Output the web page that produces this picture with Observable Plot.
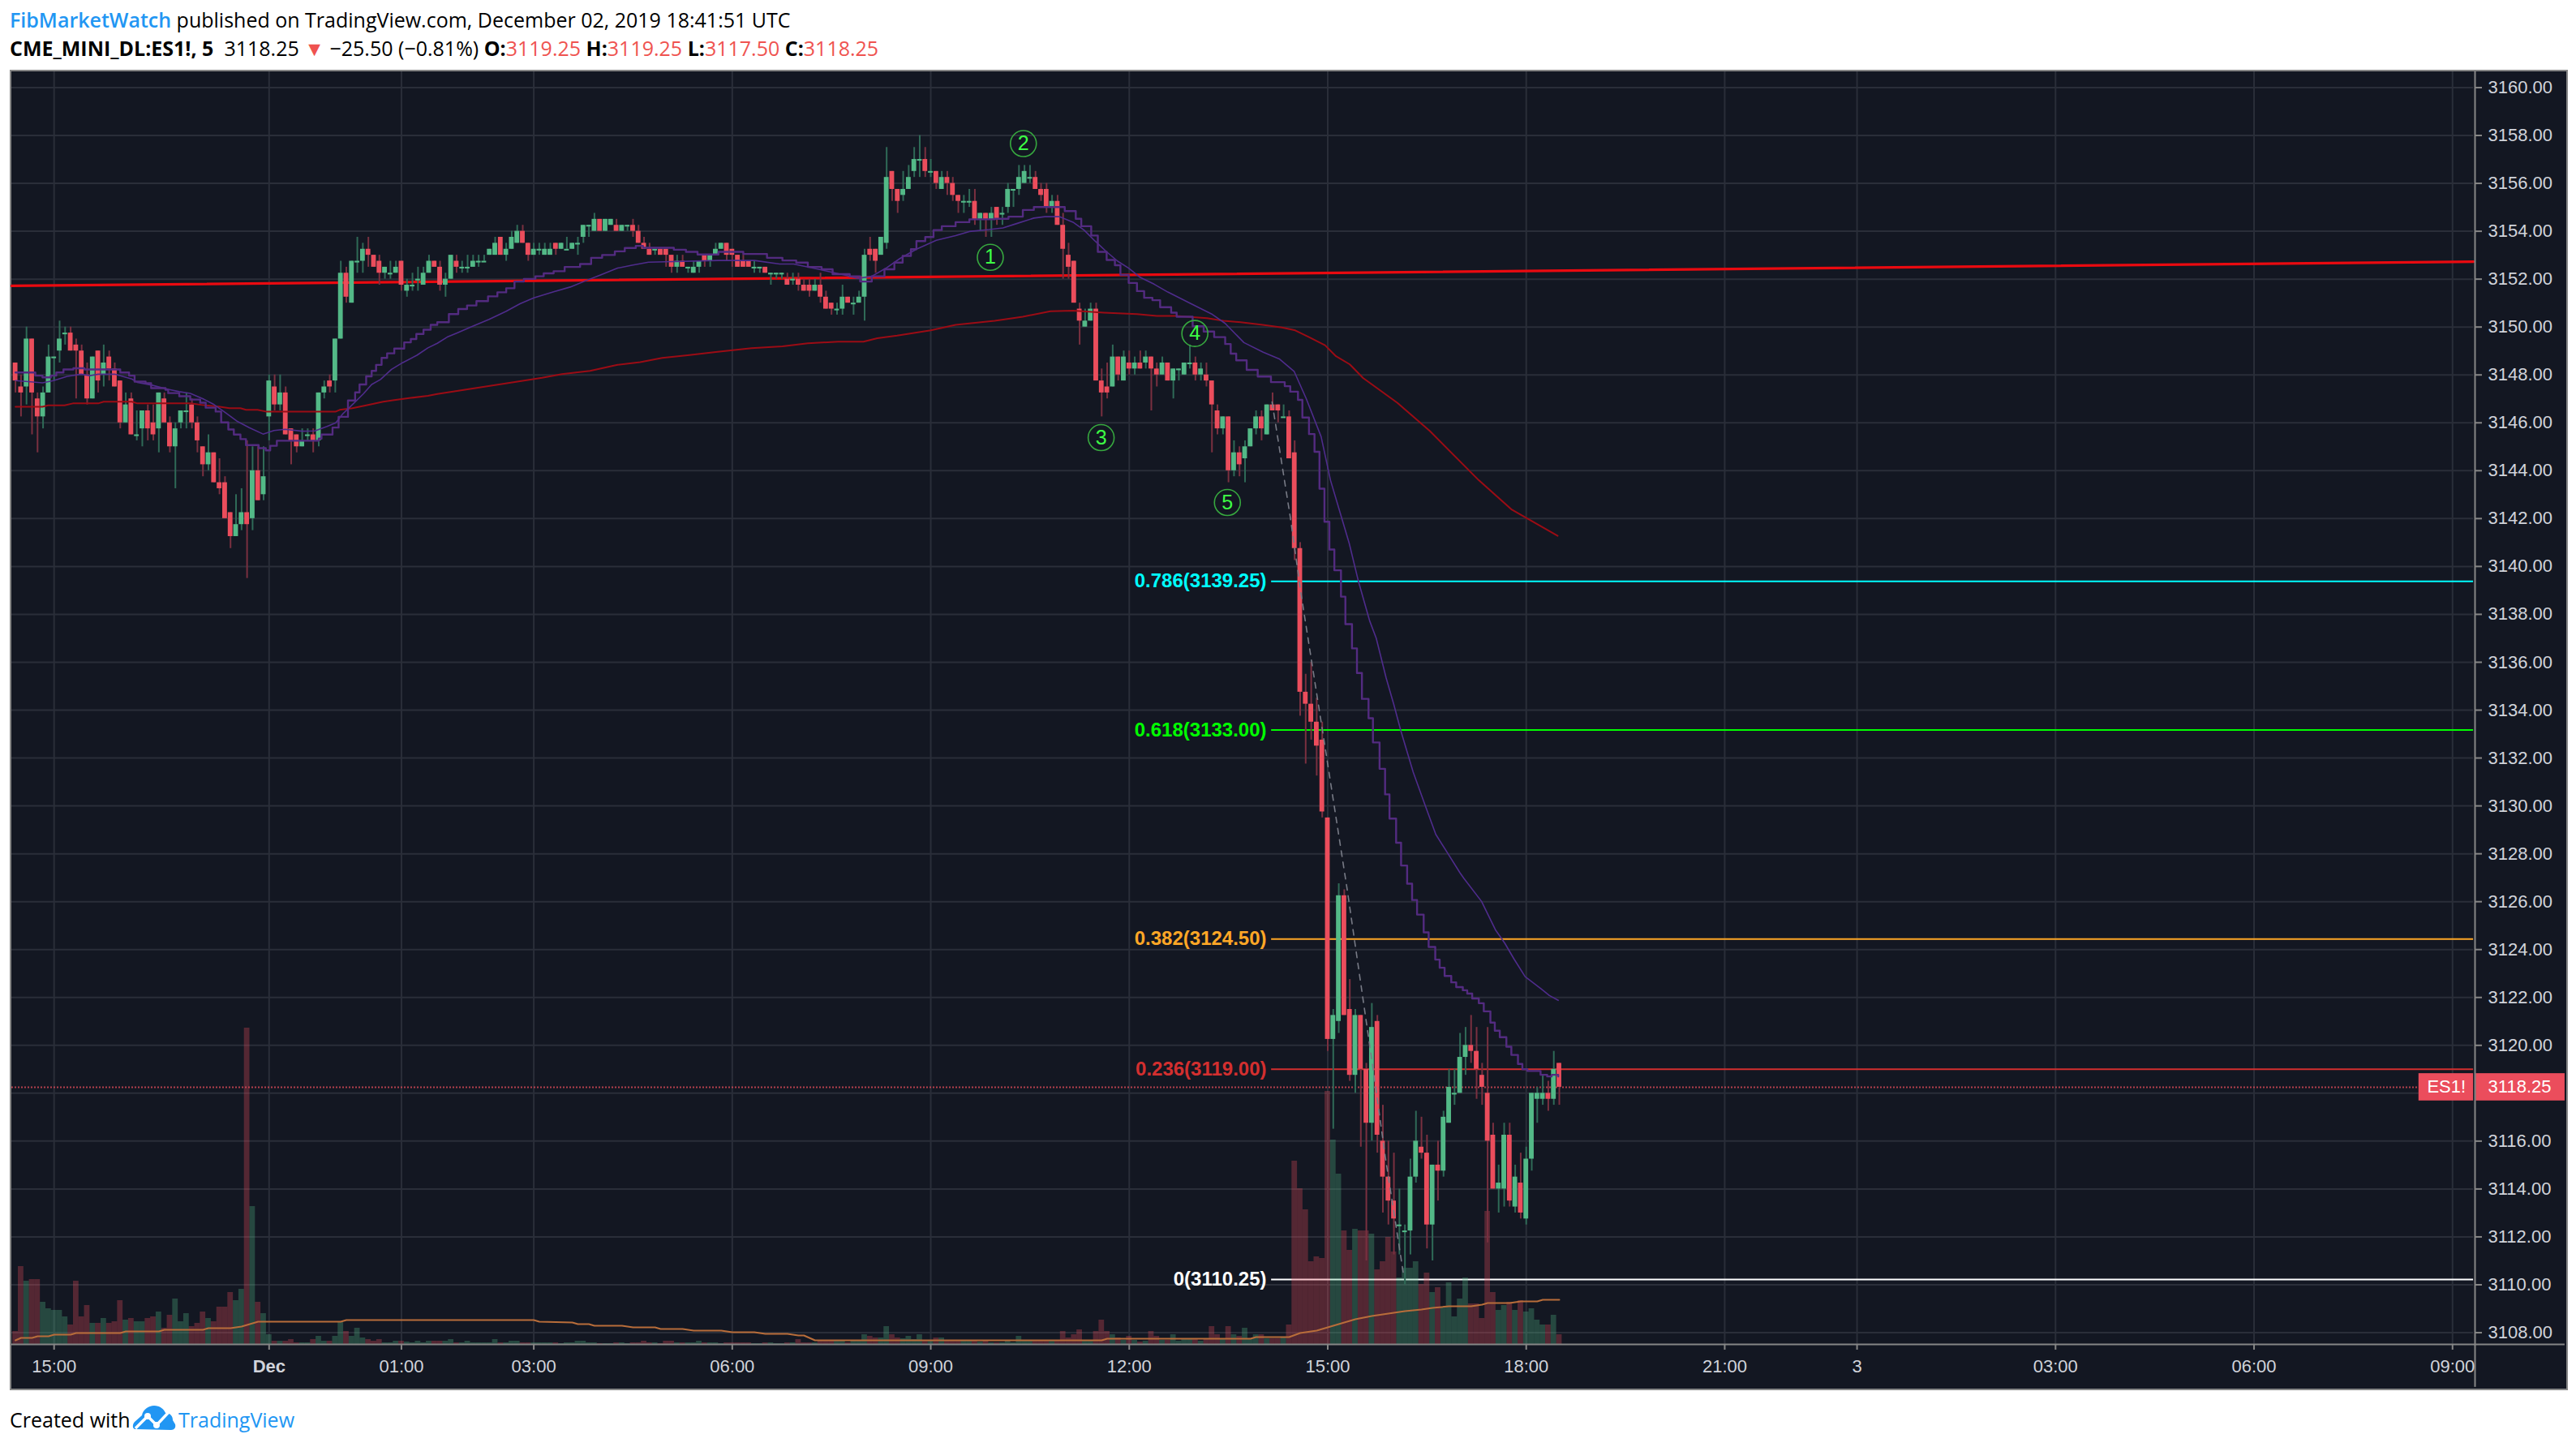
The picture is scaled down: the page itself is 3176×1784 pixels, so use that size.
<!DOCTYPE html>
<html>
<head>
<meta charset="utf-8">
<script src="https://cdn.jsdelivr.net/npm/d3@7"></script>
<script src="https://cdn.jsdelivr.net/npm/@observablehq/plot@0.6"></script>
<style>
html,body{margin:0;padding:0;background:#fff;width:3176px;height:1784px;overflow:hidden}
#page{position:relative;width:3176px;height:1784px;font-family:"Open Sans",sans-serif;color:#000}
.line{position:absolute;white-space:pre;font-size:25px;line-height:30px}
#l1{left:12px;top:9px}
#l2{left:12px;top:44px}
#wrap{position:absolute;left:12px;top:86px;width:3150px;height:1624px;border:2px solid #868686;background:#131722}
#wrap svg{display:block}
#foot{left:12px;top:1733px;font-size:25px;line-height:34px}
#logo{position:absolute;left:163px;top:1732px}
#tv{left:220px;top:1733px;font-size:25px;line-height:34px;color:#2196f3}
.blue{color:#2196f3;font-weight:600}.red{color:#ef5350}b{font-weight:700}
</style>
</head>
<body>
<div id="page">
<div class="line" id="l1"><span class="blue">FibMarketWatch</span> published on TradingView.com, December 02, 2019 18:41:51 UTC</div>
<div class="line" id="l2"><b>CME_MINI_DL:ES1!, 5</b>  3118.25 <span class="red">▼</span> −25.50 (−0.81%) <b>O:</b><span class="red">3119.25</span> <b>H:</b><span class="red">3119.25</span> <b>L:</b><span class="red">3117.50</span> <b>C:</b><span class="red">3118.25</span></div>
<div id="wrap"></div>
<div class="line" id="foot">Created with</div>
<svg id="logo" width="54" height="32" viewBox="0 0 54 32"><path fill="#2196f3" d="M4 30C0 30 0 24 3 21L12 13C13 6 20 1 27 1C34 1 39 5 41 10C47 10 50 14 50 19L53 24C54 28 52 31 48 31Z"/><path fill="none" stroke="#fff" stroke-width="3.4" d="M4 29L19 14L30 25L46 8"/><circle cx="19" cy="14" r="4" fill="#fff"/><circle cx="30" cy="25" r="4" fill="#fff"/></svg>
<div class="line" id="tv">TradingView</div>
</div>
<script>
const open = [
3148.5,3147.5,3147.5,3149.5,3147,3146.25,3147.25,3148.75,3149,3149.75,
3149.75,3149.25,3149,3148,3147,3149,3148,3148.75,3148.25,3147.75,
3146,3147,3145.5,3145.75,3146.5,3146,3145.75,3147,3146,3145,
3146,3146.5,3146.75,3146,3145,3144.25,3144.75,3143.5,3143.5,3142.25,
3141.25,3141.75,3142.25,3142,3144,3143,3146.25,3147.5,3146.75,3147.25,
3145.75,3145.5,3145,3145.5,3145.5,3145.25,3147.25,3147.75,3147.75,3149.5,
3152.25,3151,3152.75,3152.75,3153.25,3153,3152.75,3152.25,3152.25,3152.25,
3152.75,3151.5,3151.75,3152,3151.75,3152.25,3152.75,3152.5,3151.75,3152,
3152.75,3152.5,3152.5,3152.5,3152.75,3152.75,3153,3153,3153.75,3153,
3153.25,3153.5,3154,3153.5,3153,3153.25,3153,3153,3153.5,3153.25,
3153.25,3153.25,3153.5,3153.75,3154.25,3154,3154.5,3154,3154.25,3154.25,
3154,3154.25,3154.25,3154,3153.5,3153.25,3153.25,3153.25,3153.25,3153,
3152.5,3152.75,3152.5,3152.25,3152.5,3153,3152.75,3153,3153.25,3153.5,
3153.25,3153,3152.75,3152.75,3152.5,3152.5,3152.5,3152.25,3152.25,3152.25,
3152,3152,3152,3151.75,3151.75,3151.5,3151.75,3151.25,3151,3150.75,
3150.75,3151.25,3151,3151,3151.25,3153.25,3153.25,3153,3153.5,3156.5,
3155.75,3155.5,3155.75,3156.5,3157,3157,3156.5,3156.5,3155.75,3156.25,
3156,3155.5,3155.25,3155.25,3155.25,3154.5,3154.75,3154.5,3155,3154.75,
3155,3155.75,3155.75,3156,3156.25,3156.25,3155.75,3155.75,3155,3155.25,
3154.25,3153,3152.75,3150.75,3150,3150.25,3150.75,3147.75,3147.5,3147.5,
3148.75,3147.75,3148.5,3148.25,3148.5,3148.5,3148.75,3148.25,3148,3148.5,
3147.75,3148.25,3148,3148.5,3148.5,3148,3148,3147.75,3146.5,3145.75,
3146.25,3144,3144.75,3144.5,3145,3145.75,3146.25,3145.5,3146.75,3146.75,
3146.25,3146.25,3144.75,3140.75,3134.75,3134.25,3133.5,3132.75,3129.5,3120.25,
3121,3126.25,3121.5,3118.75,3121.25,3119,3116.75,3121,3116,3114.5,
3113.5,3112.5,3112.25,3112.25,3114.5,3115.75,3115.5,3112.5,3115,3114.75,
3116.75,3118,3118,3119.5,3120,3119.75,3118.75,3118,3116.25,3114,
3114,3116.25,3113.25,3114.25,3112.75,3115.25,3117.75,3117.75,3118,3117.75,3119.25];
const high = [
3148.5,3148,3150,3149.5,3147.25,3147.5,3149.25,3148.75,3150.25,3150,
3150,3149.5,3149.25,3148.5,3148.75,3149,3149.25,3149,3148.5,3147.75,
3147.25,3147.25,3146.5,3146.5,3146.75,3146.75,3147.25,3147.25,3146.25,3146,
3146.5,3147.25,3147,3146.25,3145,3145.5,3144.75,3144.5,3143.75,3142.25,
3143,3143.25,3145.25,3145,3145,3145,3148,3148,3148,3147.5,
3145.75,3145.5,3145.75,3145.75,3145.75,3147.25,3147.75,3148,3149.5,3152.75,
3152.5,3152.75,3153.75,3153.5,3153.75,3153,3153,3152.5,3152.75,3152.75,
3152.75,3152,3152.25,3152.5,3152.5,3153,3152.75,3152.75,3152.25,3153,
3153,3152.75,3153,3153,3153,3153,3153.25,3153.75,3153.75,3153.5,
3154,3154.25,3154.25,3153.5,3153.5,3153.5,3153.5,3153.5,3153.5,3153.5,
3153.75,3153.5,3153.75,3154.25,3154.25,3154.75,3154.5,3154.5,3154.5,3154.5,
3154.25,3154.25,3154.5,3154.25,3153.75,3153.5,3153.25,3153.25,3153.25,3153,
3153,3153,3152.5,3152.75,3152.75,3153,3153,3153.5,3153.5,3153.5,
3153.25,3153,3153,3152.75,3152.75,3152.5,3152.5,3152.25,3152.25,3152.25,
3152.25,3152.25,3152.25,3152,3152,3152,3152.25,3151.5,3151,3151,
3151.75,3151.25,3151.25,3151.5,3153.25,3153.75,3153.25,3153.75,3157.5,3156.5,
3155.75,3156.5,3156.75,3157.5,3158,3157.5,3157,3156.5,3156.5,3156.5,
3156.25,3155.5,3155.5,3155.75,3155.75,3154.75,3154.75,3155,3155,3155,
3156,3155.75,3156.75,3156.75,3156.75,3156.5,3156,3156,3155.5,3155.5,
3154.75,3153.5,3152.75,3151,3150.75,3151,3151,3148.25,3148.5,3149.25,
3148.75,3149,3149,3148.75,3149,3149,3148.75,3148.5,3148.75,3148.5,
3148.25,3148.25,3148.5,3149.25,3148.75,3148.5,3148.5,3147.75,3146.75,3146.25,
3146.25,3145.25,3145,3145.25,3145.75,3146.5,3146.5,3146.75,3147.25,3146.75,
3146.75,3146.5,3145.25,3141,3135.5,3136,3134.5,3133.5,3129.5,3121.5,
3126.75,3126.5,3122.75,3121.5,3121.25,3119.25,3121.75,3121.25,3117.5,3116,
3115.5,3114,3112.5,3115.25,3117.25,3117,3116.25,3115,3116,3117.25,
3119,3119,3120.5,3120.75,3121.25,3120.75,3119.25,3120.75,3116.75,3115,
3116.75,3116.75,3115,3115.5,3115.75,3118,3118.25,3118.75,3118.5,3119.75,3119.25];
const low = [
3147.25,3146.25,3146.75,3145.5,3144.75,3145.75,3147.25,3147.75,3148.5,3149.25,
3149,3147,3148,3146.75,3147,3147.25,3147.5,3147.75,3147.5,3145.75,
3146,3145.5,3145.25,3145,3145.25,3145.25,3144.75,3146,3144.75,3143.25,
3145.75,3145.75,3145.75,3144.75,3143.75,3144,3143.5,3143,3142,3140.75,
3141.25,3141.5,3139.5,3141.5,3142.75,3142.75,3145.25,3146.5,3146.5,3145.5,
3144.25,3144.75,3145,3145.25,3144.75,3145,3147,3147.25,3147.25,3149.5,
3151,3151,3152.25,3152.25,3152.5,3152.5,3151.75,3152,3152,3152.25,
3151.5,3151.25,3151.5,3151.5,3151.75,3152.25,3152.5,3151.5,3151.25,3152,
3152.25,3152.25,3152.25,3152.5,3152.5,3152.75,3153,3153,3153,3152.75,
3153.25,3153.5,3153.5,3152.75,3153,3153,3153,3153,3153,3153.25,
3153.25,3153.25,3153,3153.5,3153.75,3154,3154,3154,3154.25,3154,
3154,3154,3153.75,3153.5,3153.25,3153,3153,3153,3152.5,3152.25,
3152.25,3152.5,3152.25,3152.25,3152.25,3152.5,3152.5,3153,3153.25,3152.75,
3152.5,3152.5,3152.5,3152.5,3152.25,3152.25,3152.25,3151.75,3152,3152,
3151.75,3151.75,3151.5,3151.5,3151.25,3151.5,3151,3150.75,3150.5,3150.5,
3150.5,3151,3150.5,3151,3150.25,3152.75,3152.25,3153,3153.25,3155.25,
3154.75,3155.25,3155.75,3156.25,3156.25,3156.25,3156.25,3155.75,3155.75,3155.5,
3155.25,3154.75,3154.75,3155,3154.25,3154,3153.75,3153.75,3154.25,3154.25,
3154.75,3155,3155.5,3156,3156,3155.75,3155.25,3154.75,3154.75,3154.25,
3152,3152,3151,3149.25,3150,3150.25,3147.75,3146.25,3147,3147.5,
3147.75,3147.75,3148,3148,3148.25,3148.25,3146.5,3147.5,3148,3147.75,
3147,3147.75,3148,3148.25,3147.75,3147.75,3147.5,3144.75,3145.5,3145.5,
3143.5,3143.75,3143.75,3143.5,3145,3145.5,3145.25,3145.5,3146.5,3146,
3146.25,3144.5,3140.25,3133.75,3131.75,3132.75,3131.25,3129.5,3119.75,3116.5,
3120.5,3121.25,3118.5,3118,3115.75,3111,3116,3115.5,3113,3112.5,
3111.25,3111.25,3110,3111.25,3114.25,3115.25,3111.5,3111,3113.5,3114.5,
3116.75,3117.5,3118,3118.75,3119.25,3117.75,3117.5,3111.75,3114,3113,
3113.25,3113.25,3113,3112.75,3112.5,3114.75,3116.75,3117.5,3117.25,3117.5,3117.5];
const close = [
3147.75,3147.25,3149.5,3147.25,3146.25,3147.25,3148.75,3148.75,3149.5,3149.75,
3149,3149,3148,3147,3148.75,3147.75,3148.5,3148.25,3147.5,3146,
3146.75,3145.5,3145.5,3146.5,3145.75,3145.5,3147.25,3146,3145,3145.75,
3146.5,3146.5,3146,3145.25,3144.25,3144.75,3143.5,3143.25,3142,3141.25,
3141.75,3142.25,3141.75,3144,3142.75,3143.75,3147.75,3146.75,3147.25,3145.5,
3145.25,3145,3145.25,3145.5,3145.25,3147.25,3147.5,3147.5,3149.5,3152.25,
3151.25,3152.75,3152.75,3153.25,3153,3152.5,3152.25,3152.5,3152.25,3152.5,
3151.75,3151.75,3151.75,3152,3152.25,3152.75,3152.5,3151.75,3152,3153,
3152.5,3152.5,3152.5,3152.75,3152.75,3152.75,3153.25,3153.5,3153,3153.25,
3153.75,3154,3153.5,3153,3153.25,3153.25,3153.25,3153.25,3153.25,3153.5,
3153.25,3153.5,3153.5,3154.25,3154.25,3154.5,3154,3154.5,3154.5,3154,
3154.25,3154.25,3154,3153.5,3153.25,3153,3153.25,3153,3153,3152.5,
3152.75,3152.5,3152.5,3152.5,3152.75,3152.75,3153,3153.25,3153.5,3153,
3153,3152.5,3152.5,3152.5,3152.5,3152.5,3152.25,3152.25,3152.25,3152.25,
3151.75,3152,3151.75,3151.5,3151.5,3151.75,3151.25,3150.75,3150.75,3150.75,
3151.25,3151,3151,3151.25,3153,3153,3152.75,3153.75,3156.25,3155.75,
3155.25,3155.75,3156.25,3157,3157,3156.5,3156.5,3156,3156.25,3156,
3155.5,3155.25,3155.25,3155.25,3154.5,3154.75,3154.5,3154.75,3154.5,3154.75,
3155.75,3155.75,3156.25,3156.5,3156.25,3155.75,3155.5,3155,3155.25,3154.25,
3153.25,3152.5,3151,3150.25,3150.25,3150.75,3147.75,3147.25,3147.25,3148.75,
3148,3148.75,3148.25,3148.5,3148.25,3148.75,3148.25,3148,3148.5,3147.75,
3148.25,3148.25,3148.5,3148.5,3148,3148.25,3147.75,3146.75,3145.75,3146.25,
3144,3144.75,3144.25,3145,3145.75,3146.25,3145.75,3146.75,3146.5,3146.5,
3146.25,3144.5,3140.75,3134.75,3134.25,3133.5,3132.5,3129.75,3120.25,3121.25,
3126.25,3121.25,3118.75,3121.25,3119,3116.75,3120.75,3116.25,3114.5,3113.5,
3112.75,3112.5,3112.25,3114.5,3116,3115.5,3112.5,3115,3114.75,3117,
3118.25,3118,3119.5,3120,3119.75,3119,3118.25,3116,3114,3114.25,
3116.25,3113.5,3114.5,3113,3115.25,3118,3118,3118,3117.75,3119,3118.25];
const volume = [
16,96,78,80,80,52,44,42,42,34,
24,78,34,48,26,26,32,26,28,54,
30,32,28,28,32,34,40,20,36,56,
28,38,22,26,40,32,28,46,46,64,
54,68,390,170,52,38,12,4,4,4,
6,2,2,2,6,10,4,4,10,27,
16,10,20,8,6,4,6,2,2,4,
4,3,2,4,2,4,4,4,4,6,
2,2,4,2,2,2,2,6,2,2,
4,4,2,2,2,2,2,2,2,1,
2,2,4,4,2,2,1,1,1,2,
2,1,2,2,4,2,2,1,4,4,
2,2,2,2,4,2,2,2,1,2,
2,2,2,2,1,1,2,2,1,1,
2,2,6,2,2,2,5,5,5,5,
5,2,5,5,12,10,8,8,22,12,
8,7,10,6,12,4,5,8,8,5,
5,5,5,5,5,3,5,2,2,2,
5,2,10,5,5,5,5,5,5,5,
16,8,12,18,5,5,16,30,16,12,
8,5,10,5,3,4,16,10,5,5,
12,4,6,6,6,4,6,22,12,6,
22,12,10,20,6,12,12,7,7,7,
8,24,226,192,166,102,108,106,312,252,
210,140,116,142,140,140,136,92,102,132,
114,82,94,94,102,74,88,64,70,46,
76,34,56,82,50,50,32,164,64,42,
48,52,42,54,40,44,30,24,24,36,12];

const stepBar = [1,3.3,4.6,5.9,7.4,8.4,9.7,11.5,13.5,20,21.6,22.6,24.6,25.6,28.2,28.7,30.7,32.7,34.5,35.5,37.3,38.3,39.6,40.6,41.8,42.8,45.1,46.4,47.2,48.4,56,56.5,58.5,59.6,61.3,62.6,63.4,64.6,65.6,66.4,67.4,68.4,69.7,71.5,72.7,73.7,75,76.3,77.5,
79.6,81.3,82.9,84.6,86.7,88.4,90,91.5,93.2,95.3,96.8,98.6,100.6,103.4,105.4,107.4,109.7,111.5,113.5,114.8,120.4,122.6,124.7,128.5,133,137.3,140.1,142.6,144.7,147.2,149.2,152.3,154.2,
156.3,158.6,160.4,161.9,163.4,164.4,166,167.5,169,171.5,174,178.6,181.1,183.7,185.7,191.3,193.3,194.3,196.1,197.3,198.9,200.4,201.4,202.9,204.4,205.7,
207.2,208.6,210.6,211.6,214.5,216.5,218.4,220.4,221.4,222.4,224.3,226.3,228.7,231.2,232.2,233.6,234.4,235.6,236.6,237.5,
238.4,239.3,240.2,241.4,242.2,243.4,244.3,245.2,246.4,247.2,248.4,249.4,250.2,251.4,252.3,253.4,
254.3,255.2,256.4,257.3,258.5,259.3,260.2,261.4,262.3,263.5,264.3,265.2,266.4,267.3,268.5,269.3,270.2,271.4,272.3,273.5,274.3,275.2,277.6,278.8,279.6,280.8];
const stepPrice = [3148.1,3148.1,3147.97,3147.9,3147.97,3148.1,3148.23,3148.28,3148.23,3148.1,3147.97,3147.72,3147.65,3147.45,3147.38,3147.24,3147.11,3146.97,3146.84,3146.63,3146.47,3146.02,3145.72,3145.51,3145.32,3145.07,3144.94,3144.85,3145.04,3145.25,3145.34,3145.51,3145.8,3146.25,3146.93,3147.27,3147.6,3147.94,3148.17,3148.42,3148.71,3148.9,3149.1,3149.36,3149.5,3149.71,3149.89,3150.09,3150.2,
3150.54,3150.75,3150.9,3151.08,3151.28,3151.45,3151.62,3151.9,3152.01,3152.12,3152.24,3152.33,3152.51,3152.63,3152.89,3153.01,3153.16,3153.3,3153.39,3153.31,3153.23,3153.14,3153.03,3153.14,3153.05,3152.89,3152.78,3152.69,3152.51,3152.41,3152.21,3152.12,3151.9,
3152.12,3152.41,3152.69,3152.97,3153.25,3153.59,3153.76,3154.05,3154.21,3154.38,3154.5,3154.52,3154.61,3154.89,3155.01,3154.84,3154.52,3154.21,3153.82,3153.14,3152.8,3152.58,3152.18,3151.84,3151.5,3151.22,
3151.12,3150.83,3150.6,3150.43,3150.03,3149.81,3149.58,3149.29,3148.89,3148.61,3148.21,3147.93,3147.7,3147.53,3147.3,3146.96,3146.22,3145.53,3144.79,3143.25,
3141.87,3140.71,3139.84,3138.74,3137.59,3136.58,3135.55,3134.47,3133.66,3132.65,3131.55,3130.48,3129.47,3128.46,3127.51,3126.75,
3126.07,3125.46,3124.72,3124.11,3123.58,3123.24,3122.9,3122.63,3122.43,3122.3,3122.16,3121.96,3121.76,3121.42,3120.95,3120.61,3120.34,3119.94,3119.6,3119.22,3119,3118.93,3118.77,3118.7,3118.77,3118.7];

const slowBar = [1,3.3,5.9,7.9,10.4,12.9,14.5,16,19,22.1,23.1,25.6,28.7,30.7,32.7,35.2,36.8,38.8,41.3,43.4,45.9,47.9,49.9,53,55.3,57.5,59.1,60.3,62.1,64.1,65.6,67.2,69.2,71.2,73.8,75.8,77.5,
79.3,81.1,83.9,86.9,90,92.5,95,98.6,101.6,104.6,107.2,110.2,112.8,115.8,128.5,135,139.6,142.1,146.7,151.8,
153.8,156.3,158.9,161.4,164.4,168,171.5,174,177.6,180.1,182.7,185.7,187.7,190.3,192.8,194.8,196.8,198.9,200.9,202.9,205,207.5,210,214,217.9,220.4,223.8,227.3,230.2,232.9,235.1,237.8,239.5,241.7,
242.9,244.6,246.6,247.8,249.6,251,252.3,254.5,256.7,258.6,261.1,263,263.7,266.9,269.4,271.1,272.8,274.8,277.7,279.2,280.8];
const slowPrice = [3147.76,3147.72,3147.67,3147.76,3147.94,3148.03,3147.97,3148.03,3148.03,3147.83,3147.69,3147.58,3147.4,3147.3,3147.23,3146.98,3146.79,3146.47,3146.05,3145.8,3145.53,3145.68,3145.73,3145.65,3145.66,3145.85,3146,3146.36,3146.76,3147.21,3147.6,3147.81,3148.23,3148.51,3148.82,3149.13,3149.32,
3149.58,3149.75,3150.03,3150.32,3150.66,3150.97,3151.22,3151.47,3151.67,3151.95,3152.18,3152.46,3152.58,3152.71,3152.78,3152.78,3152.63,3152.63,3152.41,3152.15,
3152.03,3152.12,3152.46,3152.86,3153.25,3153.62,3153.82,3153.99,3154.07,3154.14,3154.33,3154.55,3154.61,3154.61,3154.38,3154.05,3153.59,3153.14,3152.75,3152.46,3152.07,3151.79,3151.46,3151,3150.55,3150.15,3149.35,3148.95,3148.67,3148.15,3147.01,3145.42,3143.6,3141.89,
3140.96,3139.35,3137.73,3137,3135.34,3134.22,3133.1,3131.41,3130,3128.81,3127.9,3127.2,3126.97,3126.01,3124.83,3124.27,3123.6,3122.87,3122.36,3122.08,3121.88];

const longBar = [1,5.9,6.9,9.9,11.4,16,17,22.1,23.1,32.7,34.7,37.8,39.8,41.8,42.8,44.9,46.4,59.1,59.8,62.1,64.6,67.7,69.7,72.7,75.8,77.5,92.5,96.5,100.1,105.2,110.2,114.3,118.3,122.9,128,134.5,140.1,144.7,150.2,154.8,157.3,160.9,167,171.5,178.6,183.7,188.7,192.8,198.4,204.4,208,211.5,217.1,220.1,223.2,227.2,230.7,233.1,235.6,238.5,240.5,243,245.4,251.6,257.5,266.4,272.4,280.7];
const longPrice = [3146.67,3146.67,3146.73,3146.73,3146.81,3146.81,3146.88,3146.88,3146.81,3146.81,3146.75,3146.68,3146.61,3146.61,3146.54,3146.54,3146.47,3146.47,3146.54,3146.61,3146.73,3146.88,3146.95,3147.04,3147.13,3147.2,3147.74,3147.88,3148.03,3148.17,3148.42,3148.53,3148.71,3148.82,3148.96,3149.12,3149.19,3149.32,3149.39,3149.39,3149.53,3149.64,3149.86,3150.09,3150.26,3150.43,3150.66,3150.68,3150.6,3150.54,3150.46,3150.46,3150.37,3150.26,3150.2,3150.09,3149.98,3149.86,3149.58,3149.24,3148.78,3148.44,3147.87,3146.84,3145.66,3143.6,3142.37,3141.28];

const volMaBar = [1,2,4,5,7,8,11,12,20,21,27,28,35,36,40,42,43,44,45,60,61,95,96,102,103,105,106,111,113,117,118,122,124,129,131,135,137,141,143,144,145,146,198,199,225,226,232,234,237,239,242,244,247,249,251,253,256,258,261,265,267,268,272,274,277,278,281];
const volMaValue = [5,8,8,10,10,12,12,14,14,16,16,18,18,20,20,22,24,26,28,28,30,30,28,27,25,25,23,23,21,21,19,19,17,17,15,15,13,13,11,11,8,5,5,7,7,9,9,14,17,21,27,31,35,37,39,41,43,45,47,47,49,51,51,53,53,55,55];

const trendBar = [0.323,446.8];
const trendPrice = [3151.72,3152.73];

const dashBar = [228.9,232.2,234.2,238.5,242.5,247.3,249.4,252.8];
const dashPrice = [3146.87,3142.07,3138.79,3132.48,3126.55,3118.9,3115.4,3110.35];

const fibLabels = ["0.786(3139.25)","0.618(3133.00)","0.382(3124.50)","0.236(3119.00)","0(3110.25)"];
const fibLevels = [3139.38,3133.17,3124.44,3119,3110.22];
const fibColors = ["#00ffff","#00ff00","#ffa726","#d32f2f","#ffffff"];

const waveLabels = ["1","2","3","4","5"];
const waveBar = [177.8,183.8,197.9,214.9,220.8];
const wavePrice = [3152.91,3157.66,3145.38,3149.73,3142.67];

const priceTicks = d3.range(3108,3161,2);
const timeTicks = [8,71,95,131,167,203,239,275,311,335,371,407,443];
const timeLabels = ["15:00","01:00","03:00","06:00","09:00","12:00","15:00","18:00","21:00","3","03:00","06:00","09:00"];
const dayTicks = [47];
const dayLabels = ["Dec"];

const lastPrice = 3118.25;
const symbolName = "ES1!";

const bars = open.map((o,k)=>({
  i:k+1,o,h:high[k],l:low[k],c:close[k],v:volume[k],up:close[k]>=o,
  top:Math.max(o,close[k]),bot:o===close[k]?o-0.07:Math.min(o,close[k])
}));
const ups = bars.filter(d=>d.up), downs = bars.filter(d=>!d.up);

const xMin=0.323, xMax=447.08, gridEnd=446.8, panelEnd=463.4;
const yMin=3107.51, yMax=3160.66, yBottom=3105.72;
const pxPerPrice=29.52;
const RED="#eb4d5c", GREEN="#53b987", GRID="#2a2e39", AXIS="#868686", TICKTXT="#d0d3da";
const font="'Liberation Sans',sans-serif";
const volY=v=>yMin+v/pxPerPrice;
const hw=0.43;

const labelOf=(ticks,labels)=>d=>labels[ticks.indexOf(d)];

const chart = Plot.plot({
  width:3148, height:1622,
  marginTop:0, marginRight:111, marginBottom:53, marginLeft:0,
  x:{domain:[xMin,xMax]},
  y:{domain:[yMin,yMax]},
  color:{type:"identity"},
  style:{background:"#131722",fontFamily:font,fontSize:"22px",color:TICKTXT,overflow:"visible"},
  marks:[
    Plot.ruleX([...timeTicks,...dayTicks],{y1:yMin,y2:yMax,stroke:GRID,strokeWidth:2}),
    Plot.ruleY(priceTicks,{x1:xMin,x2:gridEnd,stroke:GRID,strokeWidth:2}),

    Plot.line(trendBar,{x:trendBar,y:trendPrice,stroke:"#ea0a10",strokeWidth:3.2}),
    Plot.ruleY(fibLevels,{x1:()=>228.8,x2:()=>gridEnd,y:fibLevels,stroke:fibColors,strokeWidth:2}),
    Plot.ruleY([lastPrice],{x1:xMin,x2:gridEnd,stroke:RED,strokeOpacity:.75,strokeWidth:2,strokeDasharray:"2 2"}),

    Plot.rect(downs,{x1:d=>d.i-.5,x2:d=>d.i+.5,y1:yMin,y2:d=>volY(d.v),fill:RED,fillOpacity:.3}),
    Plot.rect(ups,{x1:d=>d.i-.5,x2:d=>d.i+.5,y1:yMin,y2:d=>volY(d.v),fill:GREEN,fillOpacity:.3}),
    Plot.line(volMaBar,{x:volMaBar,y:volMaValue.map(volY),stroke:"#b86d3a",strokeWidth:2}),

    Plot.ruleX(downs,{x:"i",y1:"l",y2:"h",stroke:"#7a3040",strokeWidth:2}),
    Plot.ruleX(ups,{x:"i",y1:"l",y2:"h",stroke:"#2f6a57",strokeWidth:2}),
    Plot.rect(downs,{x1:d=>d.i-hw,x2:d=>d.i+hw,y1:"bot",y2:"top",fill:RED}),
    Plot.rect(ups,{x1:d=>d.i-hw,x2:d=>d.i+hw,y1:"bot",y2:"top",fill:GREEN}),

    Plot.line(longBar,{x:longBar,y:longPrice,stroke:"#9b0c15",strokeWidth:2}),
    Plot.line(slowBar,{x:slowBar,y:slowPrice,stroke:"#4f2c8c",strokeWidth:1.6}),
    Plot.line(stepBar,{x:stepBar,y:stepPrice,curve:"step-after",stroke:"#532b80",strokeWidth:2.4}),
    Plot.line(dashBar,{x:dashBar,y:dashPrice,stroke:"#787b86",strokeWidth:1.6,strokeDasharray:"7 7"}),

    Plot.text(fibLabels,{x:()=>227.9,y:fibLevels,text:fibLabels,fill:fibColors,textAnchor:"end",fontWeight:"bold",fontSize:24}),
    Plot.dot(waveLabels,{x:waveBar,y:wavePrice,r:16,stroke:"#37a83f",strokeWidth:1.6,fill:"none"}),
    Plot.text(waveLabels,{x:waveBar,y:wavePrice,text:waveLabels,fill:"#3dff45",fontSize:25}),

    Plot.rect([symbolName],{x1:()=>436.9,x2:()=>446.8,y1:()=>lastPrice-.57,y2:()=>lastPrice+.57,fill:RED}),
    Plot.rect([lastPrice],{x1:()=>447.25,x2:()=>panelEnd,y1:()=>lastPrice-.57,y2:()=>lastPrice+.57,fill:RED}),
    Plot.text([symbolName],{x:()=>441.9,y:()=>lastPrice,text:d=>d,fill:"#fff",fontSize:22}),
    Plot.text([lastPrice],{x:()=>449.45,y:()=>lastPrice,text:d=>d.toFixed(2),fill:"#fff",fontSize:22,textAnchor:"start"}),

    Plot.frame({anchor:"right",stroke:AXIS,strokeWidth:2}),
    Plot.ruleX([xMax],{y1:yBottom,y2:yMin,stroke:AXIS,strokeWidth:2}),
    Plot.ruleY([yMin],{x1:xMin,x2:panelEnd,stroke:AXIS,strokeWidth:2}),

    Plot.axisY(priceTicks.filter(t=>t!==3118),{anchor:"right",label:null,tickSize:8,tickPadding:8,stroke:AXIS,strokeWidth:2,fill:TICKTXT,fontSize:22,tickFormat:d=>d.toFixed(2),textAnchor:"start"}),
    Plot.axisX(timeTicks,{anchor:"bottom",label:null,tickSize:7,tickPadding:12,stroke:AXIS,strokeWidth:2,fill:TICKTXT,fontSize:22,tickFormat:labelOf(timeTicks,timeLabels)}),
    Plot.axisX(dayTicks,{anchor:"bottom",label:null,tickSize:7,tickPadding:12,stroke:AXIS,strokeWidth:2,fill:TICKTXT,fontSize:22,fontWeight:"bold",tickFormat:labelOf(dayTicks,dayLabels)})
  ]
});
document.getElementById("wrap").appendChild(chart);
</script>
</body>
</html>
